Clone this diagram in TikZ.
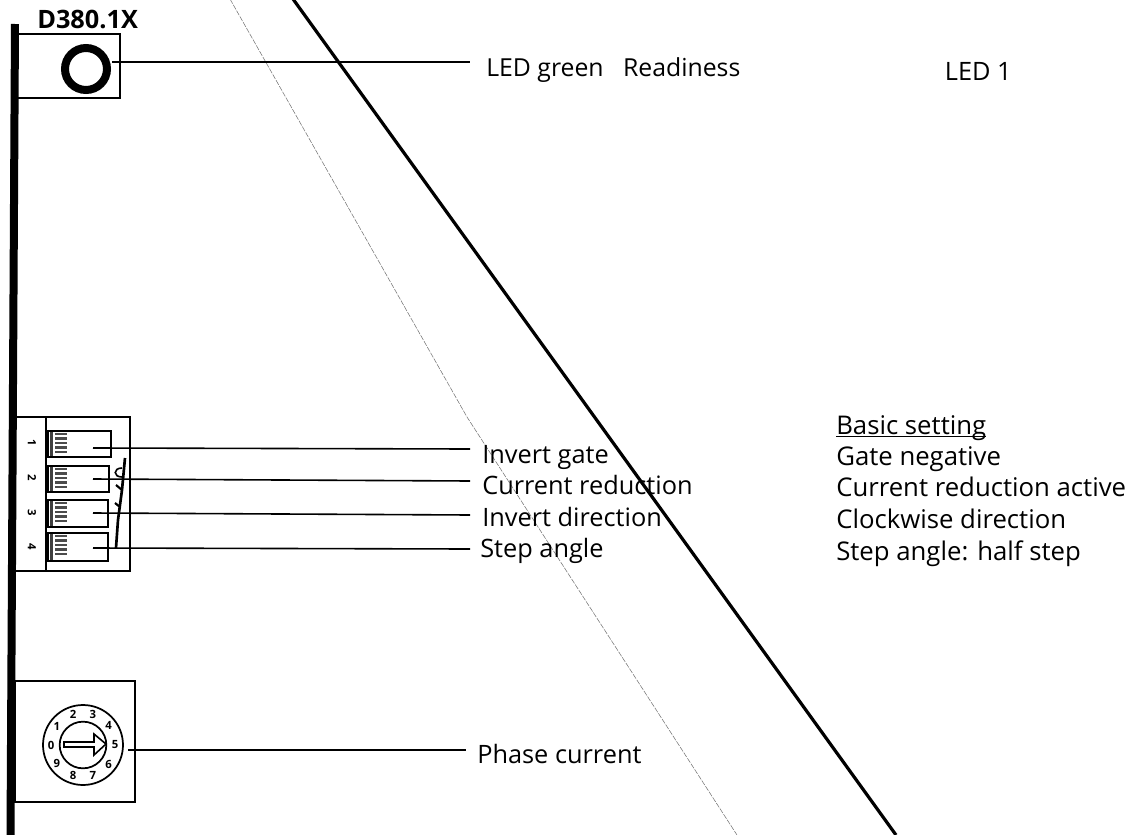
\documentclass[tikz,border=0pt]{standalone}
\usepackage{fontspec}
\setmainfont{Open Sans}
\tikzset{
  px/.style={x=0.75pt,y=-0.75pt},
  label/.style={anchor=base west,inner sep=0pt,font=\fontsize{19}{22}\selectfont,text=black},
  rlabel/.style={anchor=base west,inner sep=0pt,font=\fontsize{19.3}{22}\selectfont,text=black},
  heavy/.style={draw=black,line width=1.7pt},
  leader/.style={draw=black,line width=1.2pt},
  num/.style={font=\bfseries\fontsize{8.5}{9}\selectfont,inner sep=0pt},
}
\begin{document}
\begin{tikzpicture}[px]
\useasboundingbox (0,0) rectangle (1132,835);
% panel edge
\draw[line width=6pt] (15,24) -- (10.5,835);
% diagonals
\draw[draw=black,line width=2.4pt] (293,-1) -- (896,835);
\draw[draw=black!55,line width=0.4pt,dash pattern=on 4pt off 1pt] (230,-1) -- (467,417) -- (737,835);
% LED
\node[label,font=\bfseries\fontsize{19}{22}\selectfont] (title) at (37,28) {D380.1X};
\draw[heavy] (16,34) rectangle (120,98);
\node[circle,draw=black,line width=6pt,minimum size=31.5pt,inner sep=0pt] (led) at (86,69) {};
\node[label,font=\fontsize{18.6}{22}\selectfont] (t1) at (486,76) {LED green\ \ \ Readiness};
\coordinate (e1) at (470,62);
\draw[leader] (led) ++(26,-7) -- (e1);
\node[label,anchor=base east] (t2) at (1012,80) {LED 1};
% switch block
\draw[leader] (16,417) -- (130,417) -- (130,571) -- (16,571);
\draw[leader] (46,417) -- (46,571);
\foreach \i/\t/\b/\r/\n in {1/431/457/111/443,2/466/492/109/478,3/500/527/108/513,4/533/561/108/547}{
  \draw[leader,fill=white] (48,\t) rectangle (\r,\b);
  \fill[black!75] (50,\t+1) rectangle (53,\b-1);
  \foreach \d in {3,7.5,...,25}
    \fill[black!70] (55,\t+\d-1.2) rectangle (67,\t+\d+1.2);
  \node[num,rotate=-90] at (32,\n) {\i};
}
\coordinate (s1) at (93,448);
\coordinate (s2) at (93,479);
\coordinate (s3) at (93,513);
\coordinate (s4) at (93,548);
\coordinate (e2) at (470,449);
\coordinate (e3) at (470,481);
\coordinate (e4) at (470,515);
\coordinate (e5) at (470,549);
\node[label] (l1) at (482,463) {Invert gate};
\node[label] (l2) at (482,494) {Current reduction};
\node[label] (l3) at (482,526) {Invert direction};
\node[label] (l4) at (480,557) {Step angle};
\draw[leader] (s1) -- (e2);
\draw[leader] (s2) -- (e3);
\draw[leader] (s3) -- (e4);
\draw[leader] (s4) -- (e5);
% scribble
\draw[line width=2pt] (125,458) -- (122,490) -- (118,520) -- (116,548);
\draw[line width=1.2pt] (122,468) .. controls (113,468) and (113,477) .. (122,477);
\draw[line width=1.6pt] (116,485) -- (122,490) (115,503) -- (120,507);
% rotary
\draw[heavy] (15,681) rectangle (135,802);
\node[circle,draw=black,line width=1.3pt,minimum size=60pt,inner sep=0pt] (rot) at (83,745) {};
\node[circle,draw=black,line width=1.3pt,minimum size=35pt,inner sep=0pt] (rin) at (83,745) {};
\draw[line width=1.2pt,fill=white] (64,742) -- (94,742) -- (94,734) -- (106,744) -- (94,755) -- (94,747) -- (64,747) -- cycle;
\foreach \n/\a in {0/180,1/145,2/108,3/72,4/37,5/0,6/-37,7/-72,8/-108,9/-145}
  \node[num] at ([shift={(-\a:32)}]83,745) {\n};
\node[label] (l5) at (477,763) {Phase current};
\coordinate (r1) at (128,750);
\coordinate (e6) at (466,750);
\draw[leader] (r1) -- (e6);
% right column
\node[rlabel] (b0) at (836,434) {\underline{\smash{Basic setting}}};
\node[rlabel] (b1) at (836,465) {Gate negative};
\node[rlabel] (b2) at (836,496) {Current reduction active};
\node[rlabel] (b3) at (836,528) {Clockwise direction};
\node[rlabel] (b4) at (836,560) {Step angle: half step};
\end{tikzpicture}
\end{document}
